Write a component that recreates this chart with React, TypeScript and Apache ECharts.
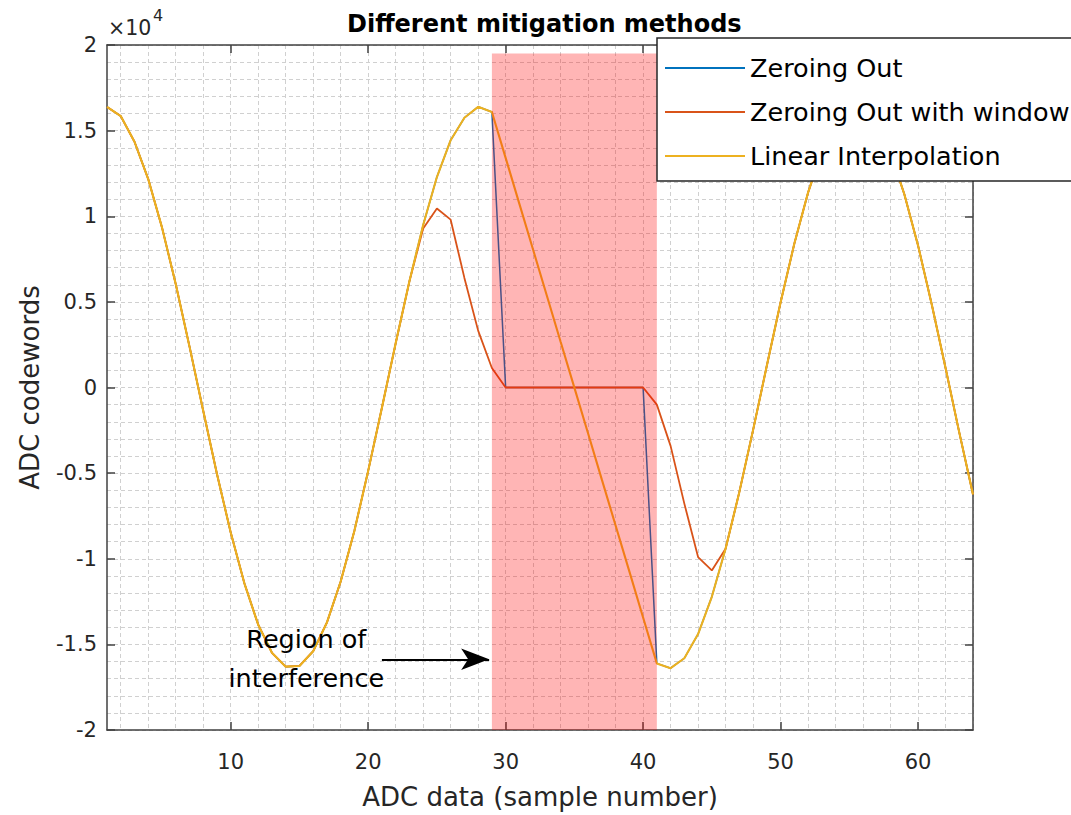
import React, { useEffect, useRef } from "react";
import * as echarts from "echarts";

// ---- data ----
const sampleIndex = [
  1, 2, 3, 4, 5, 6, 7, 8, 9, 10, 11, 12, 13, 14, 15, 16,
  17, 18, 19, 20, 21, 22, 23, 24, 25, 26, 27, 28, 29, 30, 31, 32,
  33, 34, 35, 36, 37, 38, 39, 40, 41, 42, 43, 44, 45, 46, 47, 48,
  49, 50, 51, 52, 53, 54, 55, 56, 57, 58, 59, 60, 61, 62, 63, 64,
];

const zeroingOut = [
  16380, 15850, 14350, 12170, 9350, 6040, 2400, -1360, -5050, -8470, -11450, -13850, -15490, -16300, -16260, -15400,
  -13720, -11330, -8360, -4870, -1180, 2580, 6200, 9490, 12290, 14440, 15750, 16390, 16090, 0, 0, 0,
  0, 0, 0, 0, 0, 0, 0, 0, -16110, -16390, -15810, -14400, -12220, -9420, -6110, -2490,
  1270, 4960, 8390, 11380, 13770, 15440, 16290, 16260, 15380, 13700, 11300, 8300, 4850, 1150, -2620, -6250,
];

const zeroingOutWithWindow = [
  16380, 15850, 14350, 12170, 9350, 6040, 2400, -1360, -5050, -8470, -11450, -13850, -15490, -16300, -16260, -15400,
  -13720, -11330, -8360, -4870, -1180, 2580, 6200, 9280, 10450, 9800, 6400, 3320, 1140, 0, 0, 0,
  0, 0, 0, 0, 0, 0, 0, 0, -1000, -3410, -6780, -9900, -10680, -9420, -6110, -2490,
  1270, 4960, 8390, 11380, 13770, 15440, 16290, 16260, 15380, 13700, 11300, 8300, 4850, 1150, -2620, -6250,
];

const linearInterpolation = [
  16380, 15850, 14350, 12170, 9350, 6040, 2400, -1360, -5050, -8470, -11450, -13850, -15490, -16300, -16260, -15400,
  -13720, -11330, -8360, -4870, -1180, 2580, 6200, 9490, 12290, 14440, 15750, 16390, 16090, 13410, 10720, 8040,
  5360, 2670, -10, -2690, -5380, -8060, -10740, -13430, -16110, -16390, -15810, -14400, -12220, -9420, -6110, -2490,
  1270, 4960, 8390, 11380, 13770, 15440, 16290, 16260, 15380, 13700, 11300, 8300, 4850, 1150, -2620, -6250,
];

const xTickValues = [10, 20, 30, 40, 50, 60];
const xGridValues = [
  2, 4, 6, 8, 10, 12, 14, 16, 18, 20, 22, 24, 26, 28, 30, 32,
  34, 36, 38, 40, 42, 44, 46, 48, 50, 52, 54, 56, 58, 60, 62, 64,
];

const interferenceRegion = [29, 41];
const interferenceRegionY = [-20000, 19500];
const arrowFrom = [21.0, -15870];
const arrowTo = [28.8, -15870];
const annotationAnchor = [15.5, -15800];
const annotationText = ["Region of", "interference"];

const BLUE = "#0072BD";
const ORANGE = "#D95319";
const YELLOW = "#EDB120";
const AXIS = "#404040";
const TEXT = "#262626";
const GRID = "#d0d0d0";
const FONT = "DejaVu Sans";

const toPairs = (vals: number[]) => sampleIndex.map((x, i) => [x, vals[i]]);

export default function App() {
  const ref = useRef<HTMLDivElement>(null);

  useEffect(() => {
    if (!ref.current) return;
    const chart = echarts.init(ref.current, undefined, { renderer: "svg" });
    const gridRect = { left: 107, top: 45, width: 866, height: 686 };
    const dashed = { color: GRID, width: 1, type: [4, 3] as any };

    chart.setOption({
      animation: false,
      backgroundColor: "#ffffff",
      textStyle: { fontFamily: FONT },
      title: {
        text: "Different mitigation methods",
        left: 342,
        top: 7,
        textStyle: { fontFamily: FONT, fontWeight: "bold", fontSize: 24, color: "#000" },
      },
      grid: [
        { ...gridRect, containLabel: false },
        { ...gridRect, containLabel: false },
      ],
      xAxis: [
        {
          type: "value",
          gridIndex: 0,
          position: "bottom",
          min: 1,
          max: 64,
          axisLine: { show: true, onZero: false, lineStyle: { color: AXIS, width: 1.5 } },
          axisTick: { show: true, inside: true, length: 8, customValues: xTickValues, lineStyle: { color: AXIS, width: 1.5 } },
          axisLabel: { show: true, customValues: xTickValues, fontSize: 21, color: TEXT, margin: 21, fontFamily: FONT },
          splitLine: { show: false },
          name: "ADC data (sample number)",
          nameLocation: "middle",
          nameGap: 54,
          nameTextStyle: { fontSize: 26, color: TEXT, fontFamily: FONT },
        },
        {
          type: "value",
          gridIndex: 0,
          position: "top",
          min: 1,
          max: 64,
          axisLine: { show: true, onZero: false, lineStyle: { color: AXIS, width: 1.5 } },
          axisTick: { show: true, inside: true, length: 8, customValues: xTickValues, lineStyle: { color: AXIS, width: 1.5 } },
          axisLabel: { show: false },
          splitLine: { show: false },
        },
        {
          type: "value",
          gridIndex: 1,
          position: "bottom",
          min: 1,
          max: 64,
          axisLine: { show: false },
          axisTick: { show: false, customValues: xGridValues },
          axisLabel: { show: false },
          splitLine: { show: true, lineStyle: dashed },
        },
      ],
      yAxis: [
        {
          type: "value",
          gridIndex: 0,
          position: "left",
          min: -20000,
          max: 20000,
          interval: 5000,
          axisLine: { show: true, onZero: false, lineStyle: { color: AXIS, width: 1.5 } },
          axisTick: { show: true, inside: true, length: 8, lineStyle: { color: AXIS, width: 1.5 } },
          axisLabel: {
            show: true,
            fontSize: 21,
            color: TEXT,
            margin: 10,
            fontFamily: FONT,
            formatter: (v: number) => String(v / 10000),
          },
          splitLine: { show: true, lineStyle: dashed },
          minorTick: { show: false, splitNumber: 5 },
          minorSplitLine: { show: true, lineStyle: dashed },
          name: "ADC codewords",
          nameLocation: "middle",
          nameRotate: 90,
          nameGap: 64,
          nameTextStyle: { fontSize: 26, color: TEXT, fontFamily: FONT },
        },
        {
          type: "value",
          gridIndex: 0,
          position: "right",
          min: -20000,
          max: 20000,
          interval: 5000,
          axisLine: { show: true, onZero: false, lineStyle: { color: AXIS, width: 1.5 } },
          axisTick: { show: true, inside: true, length: 8, lineStyle: { color: AXIS, width: 1.5 } },
          axisLabel: { show: false },
          splitLine: { show: false },
        },
        {
          type: "value",
          gridIndex: 1,
          min: -20000,
          max: 20000,
          interval: 5000,
          show: false,
          splitLine: { show: false },
        },
      ],
      legend: {
        data: ["Zeroing Out", "Zeroing Out with window", "Linear Interpolation"],
        orient: "vertical",
        left: 657,
        top: 38,
        icon: "rect",
        itemWidth: 80,
        itemHeight: 2,
        itemGap: 14,
        padding: [15, 12, 10, 8],
        backgroundColor: "#ffffff",
        borderColor: TEXT,
        borderWidth: 1.5,
        borderRadius: 0,
        z: 20,
        selectedMode: false,
        textStyle: { fontSize: 25.5, color: "#000", fontFamily: FONT, lineHeight: 30 },
      },
      graphic: [
        { type: "text", left: 108, top: 17, z: 20, style: { text: "×10", fontSize: 20.5, fill: TEXT, fontFamily: FONT } },
        { type: "text", left: 153, top: 7, z: 20, style: { text: "4", fontSize: 16, fill: TEXT, fontFamily: FONT } },
      ],
      series: [
        {
          name: "Zeroing Out",
          type: "line",
          xAxisIndex: 0,
          yAxisIndex: 0,
          data: toPairs(zeroingOut),
          symbol: "none",
          lineStyle: { color: BLUE, width: 1.5 },
          itemStyle: { color: BLUE },
          z: 2,
          silent: true,
        },
        {
          name: "Zeroing Out with window",
          type: "line",
          xAxisIndex: 0,
          yAxisIndex: 0,
          data: toPairs(zeroingOutWithWindow),
          symbol: "none",
          lineStyle: { color: ORANGE, width: 1.8 },
          itemStyle: { color: ORANGE },
          z: 3,
          silent: true,
        },
        {
          name: "Linear Interpolation",
          type: "line",
          xAxisIndex: 0,
          yAxisIndex: 0,
          data: toPairs(linearInterpolation),
          symbol: "none",
          lineStyle: { color: YELLOW, width: 2.1 },
          itemStyle: { color: YELLOW },
          z: 4,
          silent: true,
          markArea: {
            silent: true,
            z: 10,
            itemStyle: { color: "rgba(255,0,0,0.29)", borderWidth: 0 },
            label: { show: false },
            data: [
              [
                { coord: [interferenceRegion[0], interferenceRegionY[0]] },
                { coord: [interferenceRegion[1], interferenceRegionY[1]] },
              ],
            ],
          },
          markLine: {
            silent: true,
            z: 11,
            symbol: ["none", "arrow"],
            symbolSize: [16, 28],
            label: { show: false },
            lineStyle: { color: "#000", width: 2, type: "solid" },
            data: [[{ coord: arrowFrom }, { coord: arrowTo }]],
          },
          markPoint: {
            silent: true,
            z: 11,
            symbol: "circle",
            symbolSize: 0,
            itemStyle: { color: "rgba(0,0,0,0)" },
            label: {
              show: true,
              position: "inside",
              formatter: annotationText.join("\n"),
              fontSize: 25.5,
              lineHeight: 39,
              color: "#000",
              fontFamily: FONT,
              align: "center",
            },
            data: [{ coord: annotationAnchor }],
          },
        },
      ],
    });

    return () => chart.dispose();
  }, []);

  return (
    <div
      ref={ref}
      style={{ position: "absolute", left: 0, top: 0, width: 1071, height: 815, background: "#fff" }}
    />
  );
}
